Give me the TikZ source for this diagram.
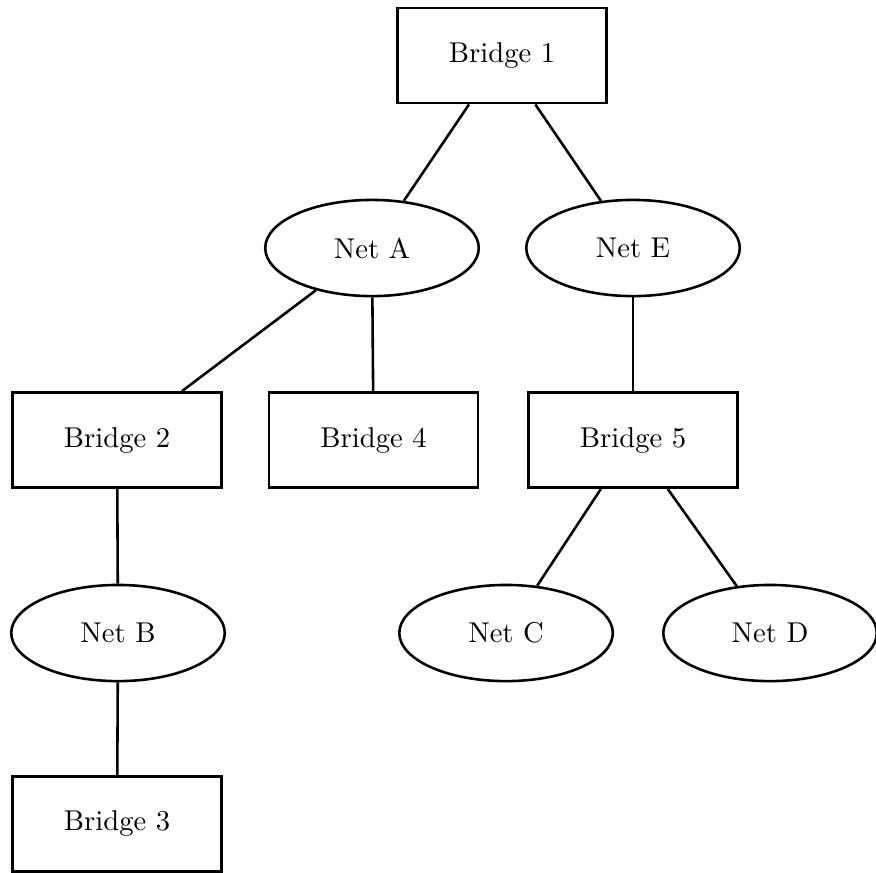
\documentclass[tikz,border=0pt]{standalone}
\usetikzlibrary{shapes.geometric}
\tikzset{
  bridge/.style={draw, rectangle, line width=0.9pt, minimum width=2.56cm, minimum height=1.17cm},
  net/.style={draw, ellipse, line width=0.9pt, minimum width=2.62cm, minimum height=1.18cm}
}
\begin{document}
\begin{tikzpicture}[line width=0.9pt]
\useasboundingbox (0,0) rectangle (10.748,-10.699);
\node[bridge] (b1) at (6.160,-0.681) {Bridge 1};
\node[net] (nA) at (4.564,-3.043) {Net A};
\draw (b1) -- (nA);
\node[net] (nE) at (7.767,-3.043) {Net E};
\draw (b1) -- (nE);
\node[bridge] (b2) at (1.436,-5.399) {Bridge 2};
\draw (nA) -- (b2);
\node[bridge] (b4) at (4.583,-5.399) {Bridge 4};
\draw (nA) -- (b4);
\node[bridge] (b5) at (7.767,-5.399) {Bridge 5};
\draw (nE) -- (b5);
\node[net] (nB) at (1.448,-7.767) {Net B};
\draw (b2) -- (nB);
\node[net] (nC) at (6.209,-7.767) {Net C};
\draw (b5) -- (nC);
\node[net] (nD) at (9.448,-7.767) {Net D};
\draw (b5) -- (nD);
\node[bridge] (b3) at (1.436,-10.110) {Bridge 3};
\draw (nB) -- (b3);
\end{tikzpicture}
\end{document}
